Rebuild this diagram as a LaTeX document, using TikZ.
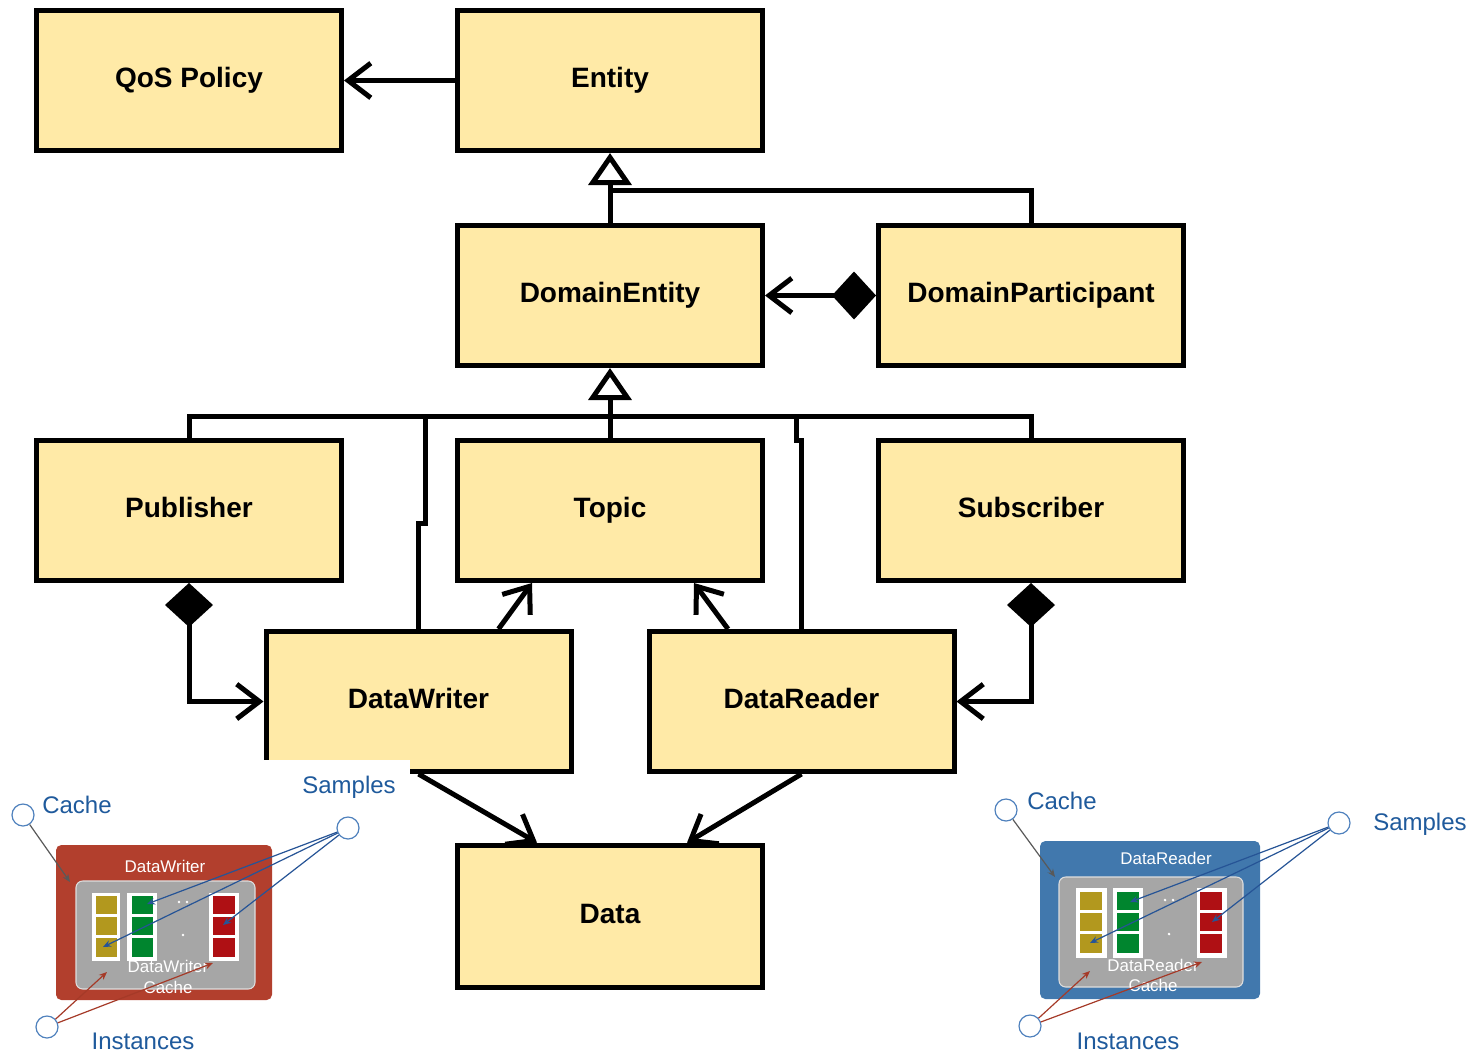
\documentclass[tikz,border=0pt]{standalone}
\usepackage{fontspec}
\setmainfont{Liberation Sans}
\usetikzlibrary{arrows.meta,calc}
\definecolor{boxfill}{RGB}{255,234,167}
\definecolor{lbltext}{RGB}{31,90,156}
\definecolor{circline}{RGB}{79,129,189}
\definecolor{wrred}{RGB}{178,63,45}
\definecolor{rdblue}{RGB}{65,120,173}
\definecolor{cgrey}{RGB}{166,166,166}
\definecolor{cgreyb}{RGB}{222,222,222}
\definecolor{cyel}{RGB}{178,152,30}
\definecolor{cgreen}{RGB}{0,133,46}
\definecolor{cred}{RGB}{175,16,20}
\definecolor{barrow}{RGB}{38,84,150}
\definecolor{rarrow}{RGB}{165,58,40}
\definecolor{garrow}{RGB}{89,89,89}
\begin{document}
\begin{tikzpicture}[x=0.75pt,y=-0.75pt,
  umlbox/.style={draw=black, line width=3.75pt, fill=boxfill, minimum width=228.75pt,
    minimum height=105pt, inner sep=0pt, text height=15pt, text depth=5.25pt,
    font=\fontsize{21}{25}\selectfont\bfseries},
  conn/.style={line width=3.75pt, draw=black},
  openv/.style={conn, -{Straight Barb[length=17pt,width=26pt]}},
  gen/.style={conn, -{Triangle[fill=white,length=24pt,width=32pt]}},
  compose/.style={conn, {Diamond[length=33pt,width=36pt]}-{Straight Barb[length=17pt,width=26pt]}},
  ring/.style={circle, draw=circline, fill=white, line width=0.9pt, minimum size=16.5pt, inner sep=0pt},
  lbl/.style={text=lbltext, font=\fontsize{18}{20}\selectfont, inner sep=0pt},
  wlbl/.style={text=white, font=\fontsize{12.7}{15}\selectfont, inner sep=0pt},
  barr/.style={draw=barrow, line width=0.9pt, -{Stealth[length=6pt,width=5pt]}},
  rarr/.style={draw=rarrow, line width=0.9pt, -{Stealth[length=6pt,width=5pt]}},
  garr/.style={draw=garrow, line width=0.9pt, -{Stealth[length=6pt,width=5pt]}},
]
\useasboundingbox (0,0) rectangle (1483,1053);

% UML boxes
\node[umlbox] (QoS)  at (189,80.5)   {QoS Policy};
\node[umlbox] (Ent)  at (610,80.5)   {Entity};
\node[umlbox] (DE)   at (610,295.5)  {DomainEntity};
\node[umlbox] (DP)   at (1031,295.5) {DomainParticipant};
\node[umlbox] (Pub)  at (189,510.5)  {Publisher};
\node[umlbox] (Top)  at (610,510.5)  {Topic};
\node[umlbox] (Sub)  at (1031,510.5) {Subscriber};
\node[umlbox] (DW)   at (418.5,701.5){DataWriter};
\node[umlbox] (DR)   at (801.5,701.5){DataReader};
\node[umlbox, minimum height=107pt] (Data) at (610,916.5) {Data};

% Entity -> QoS
\draw[openv] (Ent.west) -- (QoS.east);
% generalization to Entity
\coordinate (gbusA) at (610,190);
\draw[gen] (DE.north) -- (Ent.south);
\draw[conn] (DP.north) |- (gbusA);
% composition DP -> DE
\draw[compose] (DP.west) -- (DE.east);
% generalization to DomainEntity
\coordinate (gbusB) at (610,416);
\draw[gen] (Top.north) -- (DE.south);
\draw[conn] (Pub.north) |- (gbusB) -| (Sub.north);
\draw[conn] (DW.north) |- (425,523) -- (425,416);
\draw[conn] (DR.north) |- (796,440) -- (796,416);
% compositions
\draw[compose] (Pub.south) |- (DW.west);
\draw[compose] (Sub.south) |- (DR.east);
% associations to Topic
\draw[openv] ($(DW.north)+(80,0)$) -- ($(Top.south)+(-78,0)$);
\draw[openv] ($(DR.north)+(-73.5,0)$) -- ($(Top.south)+(84,0)$);
% to Data
\draw[openv] (DW.south) -- ($(Data.north)+(-73,0)$);
\draw[openv] (DR.south) -- ($(Data.north)+(77,0)$);

% ---------- left cache picture ----------
\fill[white] (0,760) rectangle (410,1053);
\fill[wrred, rounded corners=4pt] (56,845) rectangle (272,1000);
\node[wlbl] (lwt) at (165,866) {DataWriter};
\draw[fill=cgrey, draw=cgreyb, line width=0.8pt, rounded corners=5pt] (76,881) rectangle (255,989);
\fill[white] (92,893) rectangle (120,961);
\fill[white] (127,893) rectangle (157,961);
\fill[white] (209,893) rectangle (239,961);
\foreach \ya/\yb in {896/914,917/935,938/957}{
  \fill[cyel] (96,\ya) rectangle (117,\yb);
  \fill[cgreen] (132,\ya) rectangle (153,\yb);
  \fill[cred] (213,\ya) rectangle (235,\yb);
}
\fill[white] (179,902) circle[radius=1.1pt] (187,902) circle[radius=1.1pt] (183,935) circle[radius=1.1pt];
\node[wlbl] (lwc1) at (168,966) {DataWriter};
\node[wlbl] (lwc2) at (168,987) {Cache};
\node[ring] (lcc) at (23,815) {};
\node[ring] (lsc) at (348,828) {};
\node[ring] (lic) at (47,1027) {};
\node[lbl, anchor=west] (lct) at (42,805) {Cache};
\node[lbl] (lst) at (349,787) {Samples};
\node[lbl] (lit) at (143,1041) {Instances};
\coordinate (lcacheTo) at (70,882);
\draw[garr] (lcc) -- (lcacheTo);
\draw[barr] (lsc) -- (147,904);
\draw[barr] (lsc) -- (103,947);
\draw[barr] (lsc) -- (223,925);
\draw[rarr] (lic) -- (107,972);
\draw[rarr] (lic) -- (213,963);

% ---------- right cache picture ----------
\fill[rdblue, rounded corners=4pt] (1040,841) rectangle (1260,999);
\node[wlbl] (rrt) at (1166,858) {DataReader};
\draw[fill=cgrey, draw=cgreyb, line width=0.8pt, rounded corners=5pt] (1059,877) rectangle (1243,987);
\fill[white] (1076,888) rectangle (1107,958);
\fill[white] (1113,888) rectangle (1143,958);
\fill[white] (1197,888) rectangle (1227,958);
\foreach \ya/\yb in {892/910,913/931,934/953}{
  \fill[cyel] (1080,\ya) rectangle (1102,\yb);
  \fill[cgreen] (1117,\ya) rectangle (1139,\yb);
  \fill[cred] (1200,\ya) rectangle (1222,\yb);
}
\fill[white] (1165,900) circle[radius=1.1pt] (1173,900) circle[radius=1.1pt] (1169,934) circle[radius=1.1pt];
\node[wlbl] (rrc1) at (1153,965) {DataReader};
\node[wlbl] (rrc2) at (1153,985) {Cache};
\node[ring] (rcc) at (1006,810) {};
\node[ring] (rsc) at (1339,823) {};
\node[ring] (ric) at (1030,1026) {};
\node[lbl, anchor=west] (rct) at (1027,801) {Cache};
\node[lbl, anchor=west] (rst) at (1373,824) {Samples};
\node[lbl] (rit) at (1128,1041) {Instances};
\coordinate (rcacheTo) at (1055,877);
\draw[garr] (rcc) -- (rcacheTo);
\draw[barr] (rsc) -- (1130,902);
\draw[barr] (rsc) -- (1090,943);
\draw[barr] (rsc) -- (1212,922);
\draw[rarr] (ric) -- (1090,971);
\draw[rarr] (ric) -- (1202,962);
\end{tikzpicture}
\end{document}
